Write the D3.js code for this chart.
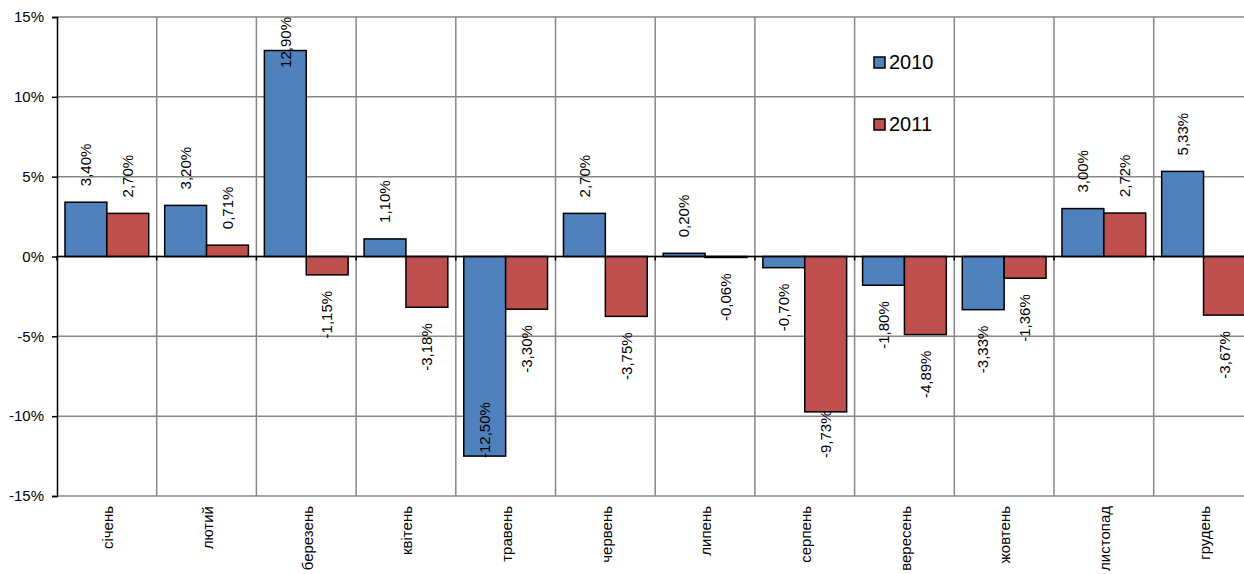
<!DOCTYPE html>
<html>
<head>
<meta charset="utf-8">
<script src="https://cdn.jsdelivr.net/npm/d3@7"></script>
<style>
  body { margin: 0; background: #fff; }
  svg { display: block; font-family: "Liberation Sans", Arial, sans-serif; }
</style>
</head>
<body>
<svg width="1244" height="574"></svg>
<script>
// Data
const months = ["січень", "лютий", "березень", "квітень", "травень", "червень",
    "липень", "серпень", "вересень", "жовтень", "листопад", "грудень"];
const series = ["2010", "2011"];
const values2010 = [3.40, 3.20, 12.90, 1.10, -12.50, 2.70, 0.20, -0.70, -1.80, -3.33, 3.00, 5.33];
const values2011 = [2.70, 0.71, -1.15, -3.18, -3.30, -3.75, -0.06, -9.73, -4.89, -1.36, 2.72, -3.67];
const yTicks = [-15, -10, -5, 0, 5, 10, 15];
const colors = {"2010": "#4f81bd", "2011": "#c0504d"};

const svg = d3.select("svg");

// Plot area (runs a little past the right edge, like the original)
const plotLeft = 57, plotTop = 17, plotBottom = 496;
const bw = 99.7;
const plotRight = plotLeft + bw * months.length;

const x = d3.scaleBand().domain(months).range([plotLeft, plotRight]).padding(0);
const x1 = d3.scaleBand().domain(series).range([0.08 * bw, 0.92 * bw]).padding(0);
const y = d3.scaleLinear().domain([-15, 15]).range([plotBottom, plotTop]);

const rows = months.map((m, i) => ({month: m, "2010": values2010[i], "2011": values2011[i]}));

// Grid
svg.append("g")
    .selectAll("line")
    .data(yTicks)
    .join("line")
        .attr("x1", plotLeft).attr("x2", plotRight)
        .attr("y1", d => y(d)).attr("y2", d => y(d))
        .attr("stroke", "#878787")
        .attr("stroke-width", 1.5);

svg.append("g")
    .selectAll("line")
    .data(months)
    .join("line")
        .attr("x1", (d, i) => plotLeft + bw * (i + 1))
        .attr("x2", (d, i) => plotLeft + bw * (i + 1))
        .attr("y1", plotTop).attr("y2", plotBottom)
        .attr("stroke", "#878787")
        .attr("stroke-width", 1.5);

// Bars
const groups = svg.append("g")
    .selectAll("g")
    .data(rows)
    .join("g")
        .attr("transform", d => `translate(${x(d.month)},0)`);

groups.selectAll("rect")
    .data(d => series.map(s => ({key: s, value: d[s]})))
    .join("rect")
        .attr("x", d => x1(d.key))
        .attr("width", x1.bandwidth())
        .attr("y", d => Math.min(y(d.value), y(0)))
        .attr("height", d => Math.abs(y(d.value) - y(0)))
        .attr("fill", d => colors[d.key])
        .attr("stroke", "#000")
        .attr("stroke-width", 1.5);

// Zero line with small ticks
svg.append("line")
    .attr("x1", plotLeft).attr("x2", plotRight)
    .attr("y1", y(0)).attr("y2", y(0))
    .attr("stroke", "#000").attr("stroke-width", 1.5);

svg.append("g")
    .selectAll("line")
    .data(months)
    .join("line")
        .attr("x1", (d, i) => plotLeft + bw * i)
        .attr("x2", (d, i) => plotLeft + bw * i)
        .attr("y1", y(0)).attr("y2", y(0) + 4)
        .attr("stroke", "#000").attr("stroke-width", 1.5);

// Y axis
const yAxis = svg.append("g")
    .attr("transform", `translate(${plotLeft},0)`)
    .call(d3.axisLeft(y).tickValues(yTicks).tickSize(5).tickPadding(8).tickFormat(d => d + "%"));
yAxis.select(".domain").attr("stroke", "#000").attr("stroke-width", 1.5);
yAxis.selectAll(".tick line").attr("stroke", "#000").attr("stroke-width", 1.5);
yAxis.selectAll(".tick text")
    .attr("font-family", "'Liberation Sans', Arial, sans-serif")
    .attr("font-size", 15)
    .attr("fill", "#000");

// Category labels
svg.append("g")
    .selectAll("text")
    .data(months)
    .join("text")
        .attr("transform", d => `translate(${x(d) + bw / 2 + 1},506) rotate(-90)`)
        .attr("text-anchor", "end")
        .attr("dy", "0.35em")
        .attr("font-size", 15)
        .text(d => d);

// Data labels
const fmt = v => v.toFixed(2).replace(".", ",") + "%";
groups.selectAll("text")
    .data(d => series.map(s => ({key: s, value: d[s]})))
    .join("text")
        .attr("font-size", 15)
        .attr("dy", "0.35em")
        .text(d => fmt(d.value))
        .each(function(d) {
            const t = d3.select(this);
            const len = this.getComputedTextLength();
            const cx = x1(d.key) + x1.bandwidth() / 2;
            let start;
            if (d.value >= 0) {
                start = y(d.value) - 16;
                if (start - len < plotTop) start = plotTop + len;
            } else {
                start = y(d.value) + 16 + len;
                if (start > 458) start = 458;
            }
            t.attr("transform", `translate(${cx},${start}) rotate(-90)`)
                .attr("text-anchor", "start");
        });

// Legend
const legend = svg.append("g")
    .selectAll("g")
    .data(series)
    .join("g")
        .attr("transform", (d, i) => `translate(874,${57 + i * 62})`);
legend.append("rect")
    .attr("width", 11).attr("height", 11)
    .attr("fill", d => colors[d])
    .attr("stroke", "#000").attr("stroke-width", 1.5);
legend.append("text")
    .attr("x", 15).attr("y", 12)
    .attr("font-size", 20)
    .text(d => d);
</script>
</body>
</html>
